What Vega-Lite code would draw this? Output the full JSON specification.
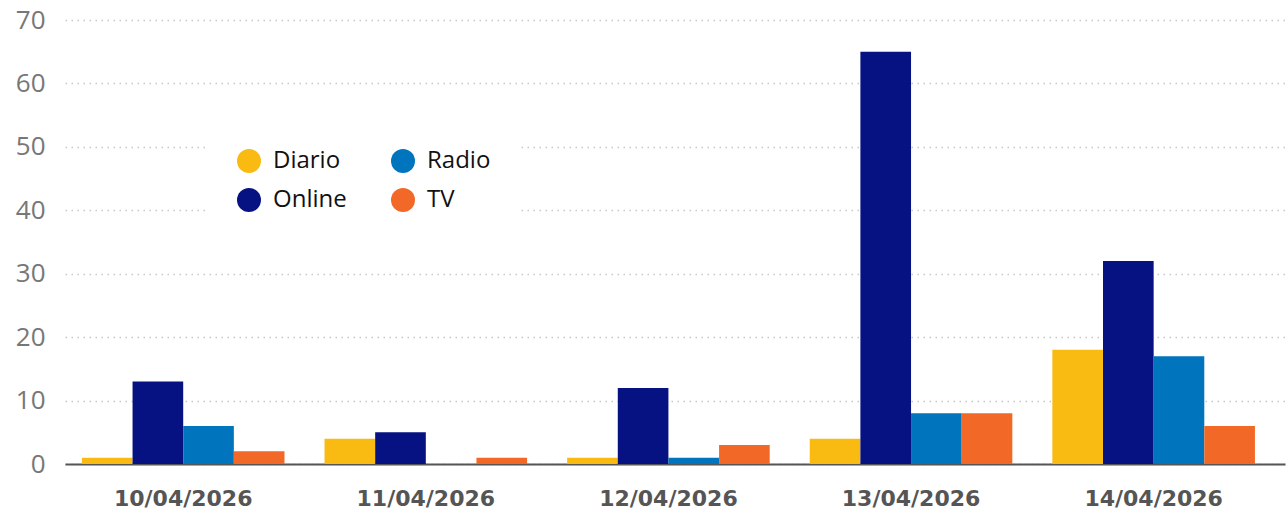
{
  "$schema": "https://vega.github.io/schema/vega-lite/v6.json",
  "width": 1220,
  "height": 444,
  "autosize": {"type": "none"},
  "padding": {"left": 65, "top": 20, "right": 2, "bottom": 46},
  "background": "white",
  "data": {
    "values": [
      {"fecha": "10/04/2026", "medio": "Diario", "valor": 1},
      {"fecha": "10/04/2026", "medio": "Online", "valor": 13},
      {"fecha": "10/04/2026", "medio": "Radio", "valor": 6},
      {"fecha": "10/04/2026", "medio": "TV", "valor": 2},
      {"fecha": "11/04/2026", "medio": "Diario", "valor": 4},
      {"fecha": "11/04/2026", "medio": "Online", "valor": 5},
      {"fecha": "11/04/2026", "medio": "Radio", "valor": 0},
      {"fecha": "11/04/2026", "medio": "TV", "valor": 1},
      {"fecha": "12/04/2026", "medio": "Diario", "valor": 1},
      {"fecha": "12/04/2026", "medio": "Online", "valor": 12},
      {"fecha": "12/04/2026", "medio": "Radio", "valor": 1},
      {"fecha": "12/04/2026", "medio": "TV", "valor": 3},
      {"fecha": "13/04/2026", "medio": "Diario", "valor": 4},
      {"fecha": "13/04/2026", "medio": "Online", "valor": 65},
      {"fecha": "13/04/2026", "medio": "Radio", "valor": 8},
      {"fecha": "13/04/2026", "medio": "TV", "valor": 8},
      {"fecha": "14/04/2026", "medio": "Diario", "valor": 18},
      {"fecha": "14/04/2026", "medio": "Online", "valor": 32},
      {"fecha": "14/04/2026", "medio": "Radio", "valor": 17},
      {"fecha": "14/04/2026", "medio": "TV", "valor": 6}
    ]
  },
  "mark": {"type": "bar", "cornerRadius": 0},
  "encoding": {
    "x": {
      "field": "fecha",
      "type": "nominal",
      "sort": null,
      "scale": {"paddingInner": 0.165, "paddingOuter": 0.0968, "align": 0.36},
      "axis": {
        "title": null,
        "labelAngle": 0,
        "labelFont": "DejaVu Sans",
        "labelFontWeight": "bold",
        "labelFontSize": 22,
        "labelColor": "#555555",
        "labelPadding": 24,
        "ticks": false,
        "domain": true,
        "domainColor": "#555555",
        "domainWidth": 2,
        "grid": false
      }
    },
    "xOffset": {
      "field": "medio",
      "type": "nominal",
      "sort": ["Diario", "Online", "Radio", "TV"],
      "scale": {"paddingInner": 0, "paddingOuter": 0}
    },
    "y": {
      "field": "valor",
      "type": "quantitative",
      "scale": {"domain": [0, 70], "nice": false},
      "axis": {
        "title": null,
        "values": [0, 10, 20, 30, 40, 50, 60, 70],
        "labelFont": "Open Sans",
        "labelFontSize": 26,
        "labelColor": "#777777",
        "labelPadding": 20,
        "ticks": false,
        "domain": false,
        "grid": true,
        "gridColor": "#c8c8c8",
        "gridDash": [1.5, 4.5],
        "gridWidth": 1.5
      }
    },
    "color": {
      "field": "medio",
      "type": "nominal",
      "scale": {
        "domain": ["Diario", "Online", "Radio", "TV"],
        "range": ["#F9BA12", "#061282", "#0075BE", "#F26826"]
      },
      "legend": {
        "title": null,
        "orient": "none",
        "legendX": 142,
        "legendY": 99,
        "columns": 2,
        "padding": 30,
        "fillColor": "white",
        "symbolType": "circle",
        "symbolSize": 576,
        "symbolStrokeWidth": 0,
        "symbolOpacity": 1,
        "labelFont": "Open Sans",
        "labelFontSize": 24,
        "labelColor": "#111111",
        "labelOffset": 12,
        "columnPadding": 44,
        "rowPadding": 15
      }
    }
  },
  "config": {
    "view": {"stroke": null}
  }
}
